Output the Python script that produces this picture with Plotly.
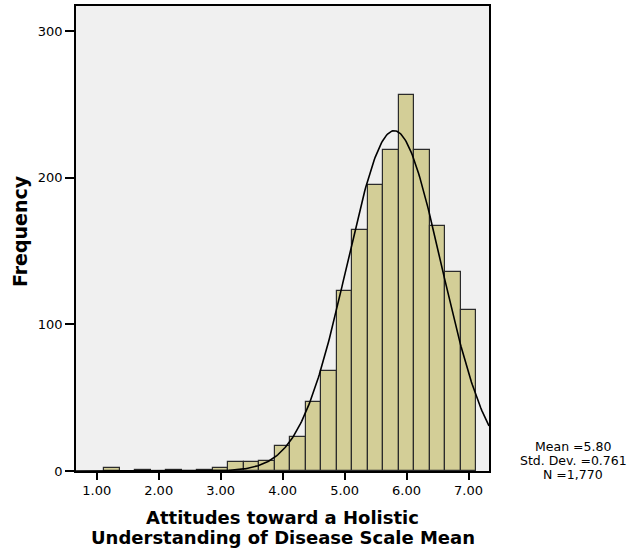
import numpy as np
import plotly.graph_objects as go

bin_centers = [1.25, 1.75, 2.25, 2.75, 3.0, 3.25, 3.5, 3.75, 4.0, 4.25, 4.5, 4.75,
               5.0, 5.25, 5.5, 5.75, 6.0, 6.25, 6.5, 6.75, 7.0]
counts = [2, 1, 1, 1, 2, 6, 6, 7, 17, 23, 47, 68,
          123, 164, 195, 219, 256, 219, 167, 136, 110]
bin_width = 0.25
mean_val = 5.80
sd_val = 0.761
n_val = 1770
x_ticks = [1, 2, 3, 4, 5, 6, 7]
x_tick_labels = ["1.00", "2.00", "3.00", "4.00", "5.00", "6.00", "7.00"]
y_ticks = [0, 100, 200, 300]
x_title_lines = ["Attitudes toward a Holistic", "Understanding of Disease Scale Mean"]
y_title = "Frequency"
stats_lines = ["Mean =5.80", "Std. Dev. =0.761", "N =1,770"]

x_range = [0.666, 7.33]
y_range = [0, 317]

font_family = "DejaVu Sans, Arial, sans-serif"

# normal curve fitted from mean, sd, N
xc = np.linspace(x_range[0], x_range[1], 400)
yc = n_val * bin_width / (sd_val * np.sqrt(2 * np.pi)) * np.exp(-0.5 * ((xc - mean_val) / sd_val) ** 2)

fig = go.Figure()
fig.add_trace(go.Bar(
    x=bin_centers, y=counts, width=bin_width,
    marker=dict(color="#D3CE97", line=dict(color="#2b2b2b", width=1.2)),
    hoverinfo="skip", showlegend=False,
))
fig.add_trace(go.Scatter(
    x=xc, y=yc, mode="lines", line=dict(color="black", width=1.6),
    hoverinfo="skip", showlegend=False, cliponaxis=True,
))

annotations = []
# x-axis title, two lines
for text, ypos in zip(x_title_lines, [-0.0996, -0.1435]):
    annotations.append(dict(
        xref="paper", yref="paper", x=0.5, y=ypos, xanchor="center", yanchor="middle",
        text="<b>" + text + "</b>", showarrow=False,
        font=dict(size=18, family=font_family, color="black"),
    ))
# y-axis title
annotations.append(dict(
    xref="paper", yref="paper", x=-0.1356, y=0.516, xanchor="center", yanchor="middle",
    text="<b>" + y_title + "</b>", showarrow=False, textangle=-90,
    font=dict(size=19, family=font_family, color="black"),
))
# stats box
for text, ypos in zip(stats_lines, [0.0535, 0.0225, -0.0086]):
    annotations.append(dict(
        xref="paper", yref="paper", x=1.2034, y=ypos, xanchor="center", yanchor="middle",
        text=text, showarrow=False,
        font=dict(size=12.5, family=font_family, color="black"),
    ))

fig.update_layout(
    width=644, height=552,
    margin=dict(l=76, r=155, t=4, b=81),
    paper_bgcolor="white", plot_bgcolor="#F0F0F0",
    font=dict(family=font_family, color="black", size=13),
    bargap=0,
    xaxis=dict(
        range=x_range, tickvals=x_ticks, ticktext=x_tick_labels,
        ticks="outside", ticklen=7, tickwidth=1.5, tickcolor="black",
        showline=True, linecolor="black", linewidth=1.5, mirror=True,
        showgrid=False, zeroline=False,
        tickfont=dict(size=13, family=font_family),
    ),
    yaxis=dict(
        range=y_range, tickvals=y_ticks,
        ticks="outside", ticklen=9, tickwidth=1.5, tickcolor="black",
        showline=True, linecolor="black", linewidth=1.5, mirror=True,
        showgrid=False, zeroline=False,
        tickfont=dict(size=13, family=font_family),
    ),
    annotations=annotations,
)

fig.write_html("out.html")
